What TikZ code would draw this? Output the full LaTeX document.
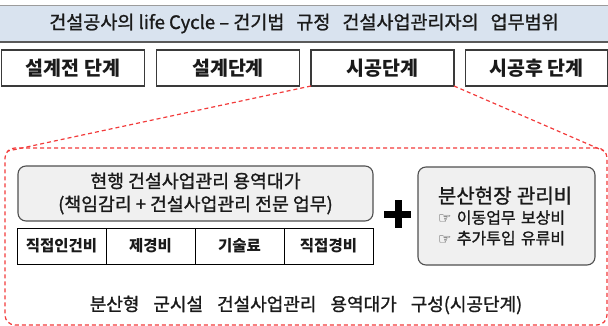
\documentclass[tikz,border=0pt]{standalone}
\usepackage{fontspec}
\setmainfont{Noto Sans CJK KR}
\newfontfamily\medfont[FakeBold=1.2]{Noto Sans CJK KR}
\newfontfamily\symfont{DejaVu Sans}
\definecolor{titlefill}{HTML}{D9E3EF}
\definecolor{titleline}{HTML}{5A5A5A}
\definecolor{stageline}{HTML}{3A3A3A}
\definecolor{dashred}{HTML}{F23B3B}
\definecolor{boxfill}{HTML}{F0F0F0}
\definecolor{boxline}{HTML}{505050}
\definecolor{ink}{HTML}{1A1A1A}
\begin{document}
\begin{tikzpicture}[x=1pt,y=-1pt,
  every node/.style={text=ink, inner sep=0pt, outer sep=0pt},
  titlebar/.style={fill=titlefill, minimum width=608pt, minimum height=37pt, font=\medfont\fontsize{18.5}{20}\selectfont},
  stagebox/.style={draw=stageline, line width=1.3pt, fill=white, minimum width=143pt, minimum height=36pt, font=\bfseries\fontsize{19.5}{22}\selectfont},
  region/.style={draw=dashred, dash pattern=on 4pt off 3pt, line width=1.2pt, rounded corners=10pt, minimum width=602pt, minimum height=177pt},
  graybox/.style={draw=boxline, line width=1.1pt, fill=boxfill, rounded corners=8pt},
  cell/.style={draw=black, line width=1pt, fill=white, minimum width=89pt, minimum height=36pt, font=\bfseries\fontsize{15.5}{18}\selectfont},
  connector/.style={draw=dashred, dash pattern=on 4pt off 3pt, line width=1.2pt},
]
\useasboundingbox (0,0) rectangle (608,326);
% title bar
\node[titlebar] (title) at (304,23.5) {건설공사의 life Cycle – 건기법\hspace{12pt}규정\hspace{12pt}건설사업관리자의\hspace{12pt}업무범위};
\draw[titleline!60, line width=0.8pt] (title.north west) -- (title.north east);
\draw[titleline, line width=2pt] (title.south west) -- (title.south east);
% stages
\node[stagebox] (s1) at (73,68) {설계전 단계};
\node[stagebox] (s2) at (228,68) {설계단계};
\node[stagebox] (s3) at (382.5,68) {시공단계};
\node[stagebox, minimum width=142pt] (s4) at (536.5,68) {시공후 단계};
% dashed region
\node[region] (region) at (306,236.5) {};
\draw[connector] (s3.south west) -- ([shift={(3,3)}]region.north west);
\draw[connector] (s3.south east) -- ([shift={(-3,3)}]region.north east);
% current fee box
\node[graybox, minimum width=355pt, minimum height=55pt, align=center, font=\medfont\fontsize{18.3}{23}\selectfont] (current) at (195.5,193.5) {현행 건설사업관리 용역대가\\(책임감리 + 건설사업관리 전문 업무)};
% cost cells
\node[cell] (c1) at (61.5,246) {직접인건비};
\node[cell] (c2) at (150.5,246) {제경비};
\node[cell] (c3) at (239.5,246) {기술료};
\node[cell] (c4) at (328.5,246) {직접경비};
% plus
\fill[black] (394.5,200) rectangle (401.5,228);
\fill[black] (384,210.5) rectangle (411,217.5);
% site management box
\node[graybox, minimum width=177pt, minimum height=98pt, text width=137pt, inner xsep=20pt, align=left, font=\medfont\fontsize{16}{20.5}\selectfont] (site) at (506.5,216) {{\fontsize{20}{20.5}\selectfont 분산현장 관리비}\\{\symfont\fontsize{15}{20.5}\selectfont ☞} 이동업무 보상비\\{\symfont\fontsize{15}{20.5}\selectfont ☞} 추가투입 유류비};
% caption
\node[font=\medfont\fontsize{18}{20}\selectfont] (caption) at (306,305) {분산형\hspace{14pt}군시설\hspace{14pt}건설사업관리\hspace{14pt}용역대가\hspace{14pt}구성(시공단계)};
\end{tikzpicture}
\end{document}
